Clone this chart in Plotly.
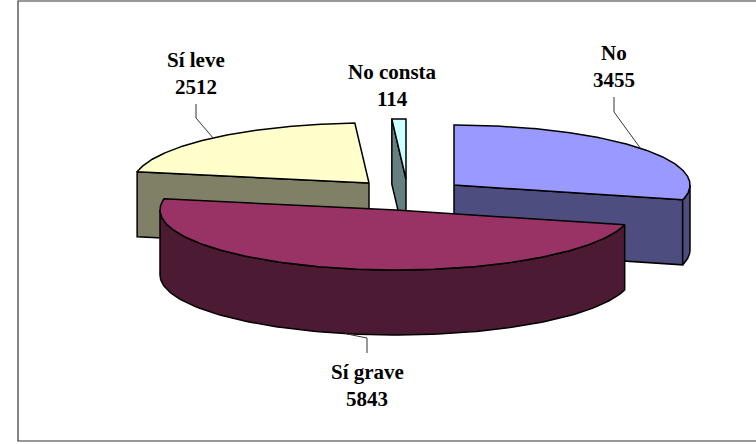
import numpy as np
import plotly.graph_objects as go

# Data
categories = ["No", "Sí grave", "Sí leve", "No consta"]
values = [3455, 5843, 2512, 114]

# Style and layout of the 3D pie
top_colors = ["#9999FF", "#993366", "#FFFFCC", "#CCFFFF"]
side_colors = ["#4D4D80", "#4D1A33", "#808066", "#668080"]
centers = [(454, 185), (396, 210), (369, 183), (406, 179)]
RX, RY, DEPTH = 236, 60, 65
draw_order = [2, 3, 0, 1]
label_pos = [(614, 53), (367, 372), (196, 60), (392, 72)]
leader_start = [(614, 97), (367, 353), (196, 104), (392, None)]
leader_elbow = [(614, 112), (367, 338), (196, 118), None]
LINE_GAP = 26.5

total = sum(values)
edges = np.radians(np.concatenate([[0], np.cumsum(values)]) * 360.0 / total)


def pt(c, a, dz=0.0):
    return c[0] + RX * np.sin(a), c[1] - RY * np.cos(a) + dz


def poly(fig, xs, ys, color):
    fig.add_trace(go.Scatter(x=list(xs), y=list(ys), mode="lines", fill="toself",
                             fillcolor=color, line=dict(color="#000000", width=1.5),
                             hoverinfo="skip", showlegend=False))


fig = go.Figure()
for i in draw_order:
    c, a0, a1 = centers[i], edges[i], edges[i + 1]
    # radial wall facing the viewer
    for a, visible in ((a0, np.sin(a0) < -1e-9), (a1, np.sin(a1) > 1e-9)):
        if visible:
            ex, ey = pt(c, a)
            poly(fig, [c[0], ex, ex, c[0], c[0]],
                 [c[1], ey, ey + DEPTH, c[1] + DEPTH, c[1]], side_colors[i])
    # outer wall (front half of the rim only)
    lo, hi = max(a0, np.pi / 2), min(a1, 3 * np.pi / 2)
    if hi > lo:
        t = np.linspace(lo, hi, 120)
        x, y = pt(c, t)
        poly(fig, np.r_[x, x[::-1], x[0]], np.r_[y, y[::-1] + DEPTH, y[0]], side_colors[i])
    # top face
    t = np.linspace(a0, a1, 200)
    x, y = pt(c, t)
    poly(fig, np.r_[c[0], x, c[0]], np.r_[c[1], y, c[1]], top_colors[i])

# Leader lines and labels
for i, name in enumerate(categories):
    mid = (edges[i] + edges[i + 1]) / 2
    if leader_elbow[i] is not None:
        ex, ey = pt(centers[i], mid, DEPTH if np.cos(mid) < 0 else 0)
        sx, sy = leader_start[i]
        bx, by = leader_elbow[i]
        fig.add_trace(go.Scatter(x=[sx, bx, ex], y=[sy, by, ey], mode="lines",
                                 line=dict(color="#333333", width=1),
                                 hoverinfo="skip", showlegend=False))
    lx, ly = label_pos[i]
    for k, txt in enumerate((name, str(values[i]))):
        fig.add_annotation(x=lx, y=ly + k * LINE_GAP, text=f"<b>{txt}</b>", showarrow=False,
                           xanchor="center", yanchor="middle",
                           font=dict(family="Liberation Serif", size=21, color="#000000"))

fig.add_shape(type="rect", x0=18, y0=1, x1=770, y1=441,
              line=dict(color="#333333", width=1.2), fillcolor="rgba(0,0,0,0)", layer="above")

fig.update_layout(width=756, height=444, margin=dict(l=0, r=0, t=0, b=0),
                  paper_bgcolor="#FFFFFF", plot_bgcolor="#FFFFFF", showlegend=False,
                  xaxis=dict(range=[0, 756], visible=False, fixedrange=True),
                  yaxis=dict(range=[444, 0], visible=False, fixedrange=True))
fig.write_html("out.html", config=dict(displayModeBar=False),
               post_script="document.body.style.margin='0';document.documentElement.style.overflow='hidden';")
